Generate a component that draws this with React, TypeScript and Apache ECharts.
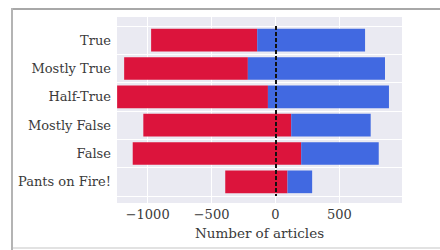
import React, { useEffect, useRef } from "react";
import * as echarts from "echarts";

const categories = ["True", "Mostly True", "Half-True", "Mostly False", "False", "Pants on Fire!"];
const redStart = [-973, -1184, -1239, -1034, -1117, -393];
const splitPoint = [-143, -216, -59, 123, 201, 94];
const blueEnd = [701, 857, 888, 745, 808, 287];

const FONT = "DejaVu Serif";
const TEXT = "#3a3a3a";

export default function App() {
  const ref = useRef<HTMLDivElement>(null);
  useEffect(() => {
    if (!ref.current) return;
    const chart = echarts.init(ref.current, undefined, { renderer: "svg" });
    const redLen = splitPoint.map((s, i) => s - redStart[i]);
    const blueLen = blueEnd.map((e, i) => e - splitPoint[i]);
    chart.setOption({
      animation: false,
      backgroundColor: "#ffffff",
      graphic: [
        { type: "line", shape: { x1: 11, y1: 9, x2: 440, y2: 9 }, style: { stroke: "#a8a8a8", lineWidth: 2 } },
        { type: "line", shape: { x1: 12, y1: 8, x2: 12, y2: 250 }, style: { stroke: "#b4b4b4", lineWidth: 2 } },
        { type: "line", shape: { x1: 13, y1: 248, x2: 440, y2: 248 }, style: { stroke: "#e2e2e2", lineWidth: 2 } },
      ],
      grid: [
        { left: 117, right: 38, top: 17, bottom: 47, show: true, backgroundColor: "#EAEAF2", borderWidth: 0, borderColor: "transparent" },
        { left: 117, right: 38, top: 26, bottom: 54, show: false },
      ],
      xAxis: [
        {
          gridIndex: 0,
          type: "value",
          min: -1240,
          max: 990,
          splitNumber: 5,
          axisLine: { show: false },
          axisTick: { show: false },
          splitArea: { show: false },
          splitLine: { show: true, showMinLine: false, showMaxLine: false, lineStyle: { color: "#ffffff", width: 1 } },
          axisLabel: {
            showMinLabel: false,
            showMaxLabel: false,
            margin: 5,
            fontFamily: FONT,
            fontSize: 13,
            color: TEXT,
            formatter: (v: number) => (Math.abs(v % 500) < 1e-6 ? String(v).replace("-", "\u2212") : ""),
          },
          name: "Number of articles",
          nameLocation: "middle",
          nameGap: 20,
          nameTextStyle: { fontFamily: FONT, fontSize: 13.5, color: TEXT },
        },
        {
          gridIndex: 1,
          type: "value",
          min: -1240,
          max: 990,
          show: false,
          axisLine: { show: false },
          splitLine: { show: false },
        },
      ],
      yAxis: [
        {
          gridIndex: 0,
          type: "value",
          min: 0,
          max: 1,
          show: false,
          axisLine: { show: false },
          axisTick: { show: false },
          axisLabel: { show: false },
          splitLine: { show: false },
        },
        {
          gridIndex: 1,
          type: "category",
          data: categories,
          inverse: true,
          axisLine: { show: false },
          axisTick: { show: false },
          splitLine: { show: true, lineStyle: { color: "#ffffff", width: 1 } },
          axisLabel: { margin: 6, fontFamily: FONT, fontSize: 13, color: TEXT },
        },
      ],
      series: [
        {
          type: "bar",
          xAxisIndex: 1,
          yAxisIndex: 1,
          stack: "s",
          stackStrategy: "all",
          data: redStart,
          barWidth: "80%",
          itemStyle: { color: "transparent" },
          silent: true,
        },
        {
          type: "bar",
          xAxisIndex: 1,
          yAxisIndex: 1,
          stack: "s",
          stackStrategy: "all",
          data: redLen,
          barWidth: "80%",
          itemStyle: { color: "#DC143C" },
        },
        {
          type: "bar",
          xAxisIndex: 1,
          yAxisIndex: 1,
          stack: "s",
          stackStrategy: "all",
          data: blueLen,
          barWidth: "80%",
          itemStyle: { color: "#4169E1" },
          markLine: {
            silent: true,
            symbol: ["none", "none"],
            label: { show: false },
            lineStyle: { color: "#111111", type: [4, 2], width: 2 },
            data: [{ xAxis: 0 }],
          },
        },
      ],
    });
    return () => chart.dispose();
  }, []);
  return <div ref={ref} style={{ position: "fixed", left: 0, top: 0, width: 440, height: 250 }} />;
}
